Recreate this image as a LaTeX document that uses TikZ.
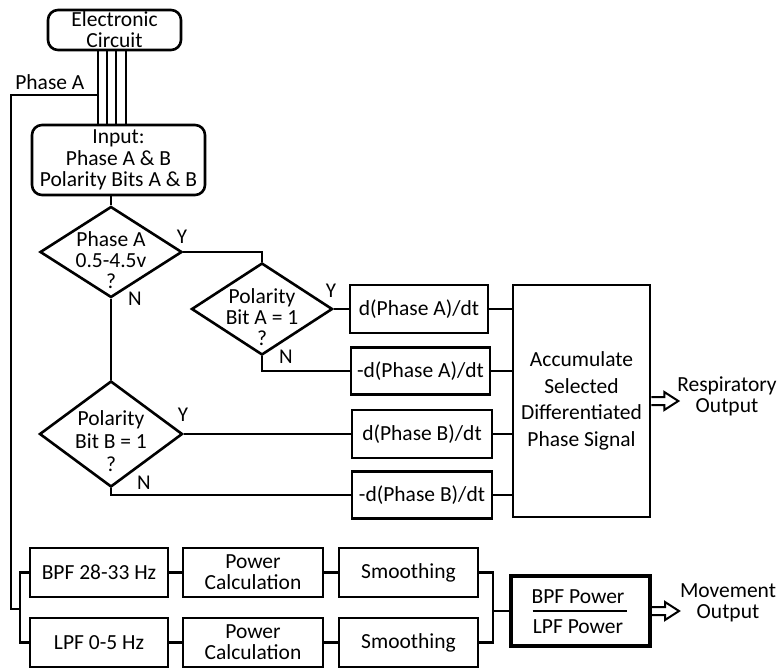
\documentclass[tikz,border=0pt]{standalone}
\usepackage{fontspec}
\setmainfont{Carlito}
\usetikzlibrary{shapes.geometric}
\begin{document}
\begin{tikzpicture}[x=1pt,y=-1pt,line width=2.6pt,
  every node/.style={font=\fontsize{21.5}{21.5}\selectfont,align=center,inner sep=0pt},
  box/.style={draw,rectangle,line width=2.6pt},
  rbox/.style={box,rounded corners=10pt},
  dia/.style={draw,diamond,line width=2.6pt},
  lbl/.style={font=\fontsize{21}{21}\selectfont},
  hollow/.style={line width=2pt,line join=miter}]
\fill[white] (0,0) rectangle (782,669);
\useasboundingbox (0,0) rectangle (782,669);

% top
\node[rbox,minimum width=133pt,minimum height=40pt,font=\fontsize{21.5}{21}\selectfont] (ec) at (114.5,30) {Electronic\\Circuit};
\node[rbox,minimum width=173pt,minimum height=70pt] (inp) at (118.5,160) {Input:\\Phase A \& B\\Polarity Bits A \& B};
\foreach \o [count=\i] in {-16.5,-7.5,1.5,11.5}{
  \coordinate (w\i) at ([xshift=\o pt]ec.south);
  \draw[line width=2.4pt] (w\i) -- (w\i |- inp.north);
}
\node[anchor=west] (pal) at (14,82) {Phase A};

% diamonds
\node[dia,minimum width=142pt,minimum height=91pt] (d1) at (111,252) {};
\node[font=\fontsize{21.5}{21}\selectfont] (d1t) at (111,260) {Phase A\\0.5-4.5v\\?};
\node[dia,minimum width=141pt,minimum height=92pt] (d2) at (262,309) {};
\node[font=\fontsize{21.5}{21}\selectfont] (d2t) at (262,317) {Polarity\\Bit A = 1\\?};
\node[dia,minimum width=143pt,minimum height=106pt] (d3) at (111,434) {};
\node[font=\fontsize{21.5}{23}\selectfont] (d3t) at (111,441) {Polarity\\Bit B = 1\\?};

\node[lbl] (y1) at (182,237) {Y};
\node[lbl] (n1) at (135,299) {N};
\node[lbl] (y2) at (331,291) {Y};
\node[lbl] (n2) at (286,357) {N};
\node[lbl] (y3) at (183,415) {Y};
\node[lbl] (n3) at (144,483) {N};

% derivative boxes
\node[box,minimum width=138pt,minimum height=48pt] (da) at (419,309) {d(Phase A)/dt};
\node[box,minimum width=139pt,minimum height=47pt] (nda) at (420.5,371) {-d(Phase A)/dt};
\node[box,minimum width=140pt,minimum height=48pt] (db) at (422,434) {d(Phase B)/dt};
\node[box,minimum width=140pt,minimum height=47pt] (ndb) at (422,495) {-d(Phase B)/dt};

\node[box,minimum width=137pt,minimum height=232pt,font=\fontsize{21.5}{26.7}\selectfont] (acc) at (581.5,401)
  {Accumulate\\Selected\\Differentiated\\Phase Signal};

\draw (d1.north |- inp.south) -- (d1.north);
\draw (d1.east) -| (d2.north);
\draw (d1.south) -- (d3.north);
\draw (d2.east) -- (da.west);
\draw (d2.south) |- (nda.west);
\draw (d3.east) -- (db.west);
\draw (d3.south) |- (ndb.west);
\foreach \b in {da,nda,db,ndb}{
  \draw (\b.east) -- (\b.east -| acc.west);
}

% respiratory output
\draw[hollow] ([yshift=4pt]acc.east) -- ++(13,0) -- ++(0,-5) -- ++(14,9) -- ++(-14,9) -- ++(0,-5) -- ++(-13,0);
\node[font=\fontsize{21.5}{21}\selectfont] (resp) at (727,396) {Respiratory\\Output};

% bottom chain
\node[box,minimum width=138pt,minimum height=49pt] (bpf) at (99,572.5) {BPF 28-33 Hz};
\node[box,minimum width=140pt,minimum height=49pt,font=\fontsize{21.5}{21}\selectfont] (pc1) at (253,572.5) {Power\\Calculation};
\node[box,minimum width=139pt,minimum height=49pt] (sm1) at (408.5,572.5) {Smoothing};
\node[box,minimum width=138pt,minimum height=49pt] (lpf) at (99,642.5) {LPF 0-5 Hz};
\node[box,minimum width=140pt,minimum height=49pt,font=\fontsize{21.5}{21}\selectfont] (pc2) at (253,642.5) {Power\\Calculation};
\node[box,minimum width=139pt,minimum height=49pt] (sm2) at (408.5,642.5) {Smoothing};

\node[box,line width=4pt,minimum width=139pt,minimum height=70pt] (rat) at (580.5,611) {};
\node (num) at (578,597) {BPF Power};
\node (den) at (578,627) {LPF Power};
\draw[line width=2.2pt] ([xshift=-48pt]rat.center) -- ([xshift=46pt]rat.center);

\draw (bpf.east) -- (pc1.west);
\draw (pc1.east) -- (sm1.west);
\draw (lpf.east) -- (pc2.west);
\draw (pc2.east) -- (sm2.west);

\coordinate (sj) at (493,611);
\draw (sm1.east) -| (sj) |- (sm2.east);
\draw (sj) -- (rat.west);

\coordinate (pa) at (98,95);
\coordinate (lc) at (11,609);
\coordinate (jn) at (20,609);
\draw (pa) -| (lc) -- (jn);
\draw (bpf.west) -| (jn) |- (lpf.west);

% movement output
\draw[hollow] ([yshift=4pt]rat.east) -- ++(13,0) -- ++(0,-5) -- ++(14,9) -- ++(-14,9) -- ++(0,-5) -- ++(-13,0);
\node[font=\fontsize{21.5}{21}\selectfont] (mov) at (728,603) {Movement\\Output};
\end{tikzpicture}
\end{document}
